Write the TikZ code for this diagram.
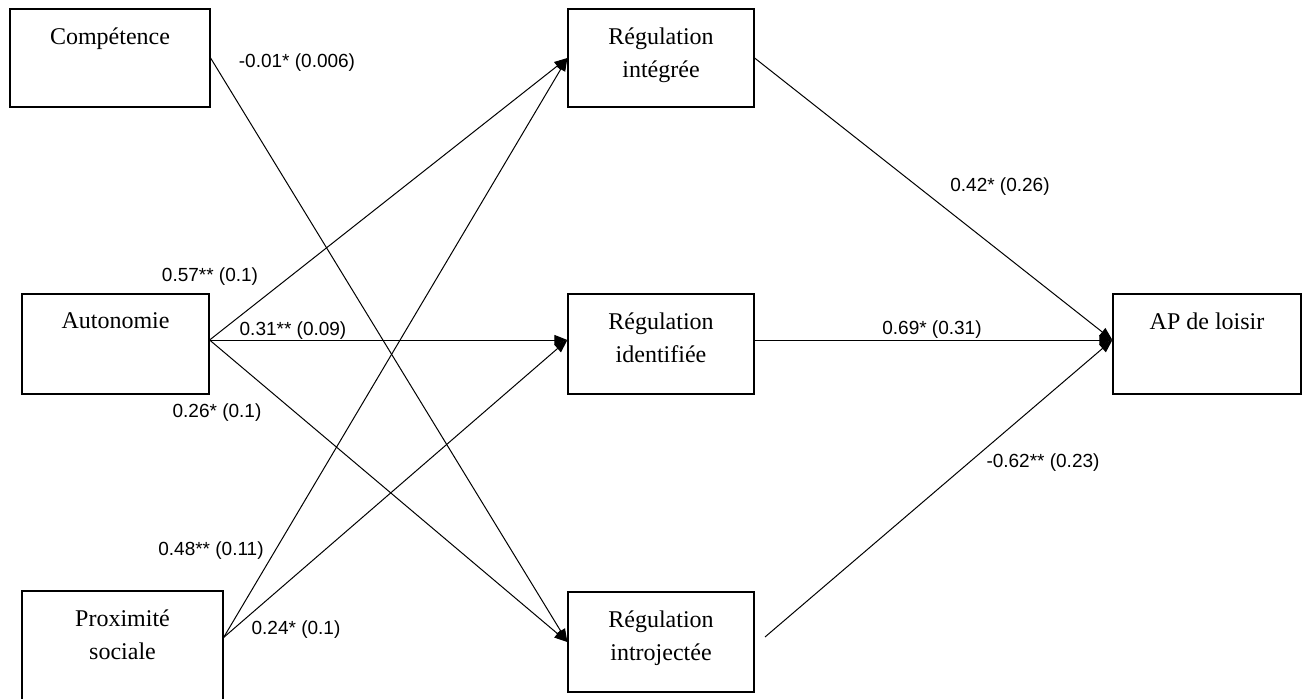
\documentclass[tikz,border=0pt]{standalone}
\usepackage{fontspec}
\setmainfont{Liberation Serif}
\newfontfamily\coeffont{Liberation Sans}
\usetikzlibrary{arrows.meta}
\tikzset{
  boite/.style={draw,line width=1.2pt,inner sep=0pt,minimum width=186pt,minimum height=100pt},
  titre/.style={anchor=north,yshift=-19pt,inner sep=0pt,align=center,font=\fontsize{24}{33}\selectfont},
  coef/.style={inner sep=0pt,font=\coeffont\fontsize{19}{21}\selectfont},
  fleche/.style={-{Triangle[length=13pt,width=10pt]},line width=1pt}
}
\begin{document}
\begin{tikzpicture}[x=1pt,y=-1pt]
        \useasboundingbox (0,0) rectangle (1307,699);
        % Variables de gauche
        \node[boite,minimum width=200pt,minimum height=98pt,label={[titre]north:Compétence}] (comp) at (110,58) {};
        \node[boite,minimum width=187pt,label={[titre]north:Autonomie}] (auto) at (115.5,344) {};
        \node[boite,minimum width=201pt,minimum height=115pt,label={[titre]north:{Proximité\\sociale}}] (prox) at (122.5,648.5) {};
        
        % Régulations
        \node[boite,minimum height=98pt,label={[titre]north:{Régulation\\intégrée}}] (integ) at (661,58) {};
        \node[boite,label={[titre]north:{Régulation\\identifiée}}] (ident) at (661,344) {};
        \node[boite,label={[titre]north:{Régulation\\introjectée}}] (intro) at (661,642) {};
        
        % Variable dépendante
        \node[boite,minimum width=188pt,label={[titre]north:AP de loisir}] (ap) at (1207,344) {};
        \coordinate (intro-d) at (765,637);
        
        % Flèches
        \draw[fleche] (comp.east) -- (intro.west);
        \draw[fleche] ([yshift=4pt]auto.east) -- (integ.west);
        \draw[fleche] ([yshift=4pt]auto.east) -- ([yshift=4pt]ident.west);
        \draw[fleche] ([yshift=4pt]auto.east) -- (intro.west);
        \draw[fleche] ([yshift=11pt]prox.east) -- (integ.west);
        \draw[fleche] ([yshift=11pt]prox.east) -- ([yshift=4pt]ident.west);
        \draw[fleche] (integ.east) -- ([yshift=4pt]ap.west);
        \draw[fleche] ([yshift=4pt]ident.east) -- ([yshift=4pt]ap.west);
        \draw[fleche] (intro-d) -- ([yshift=4pt]ap.west);
        
        % Coefficients
        \node[coef] (c-comp) at (297,63) {-0.01* (0.006)};
        \node[coef] (c-auto1) at (210,277) {0.57** (0.1)};
        \node[coef] (c-auto2) at (293,331) {0.31** (0.09)};
        \node[coef] (c-auto3) at (217,413) {0.26* (0.1)};
        \node[coef] (c-prox1) at (211,551) {0.48** (0.11)};
        \node[coef] (c-prox2) at (296,630) {0.24* (0.1)};
        \node[coef] (c-integ) at (1000,187) {0.42* (0.26)};
        \node[coef] (c-ident) at (932,330) {0.69* (0.31)};
        \node[coef] (c-intro) at (1043,463) {-0.62** (0.23)};
    \end{tikzpicture}
\end{document}
